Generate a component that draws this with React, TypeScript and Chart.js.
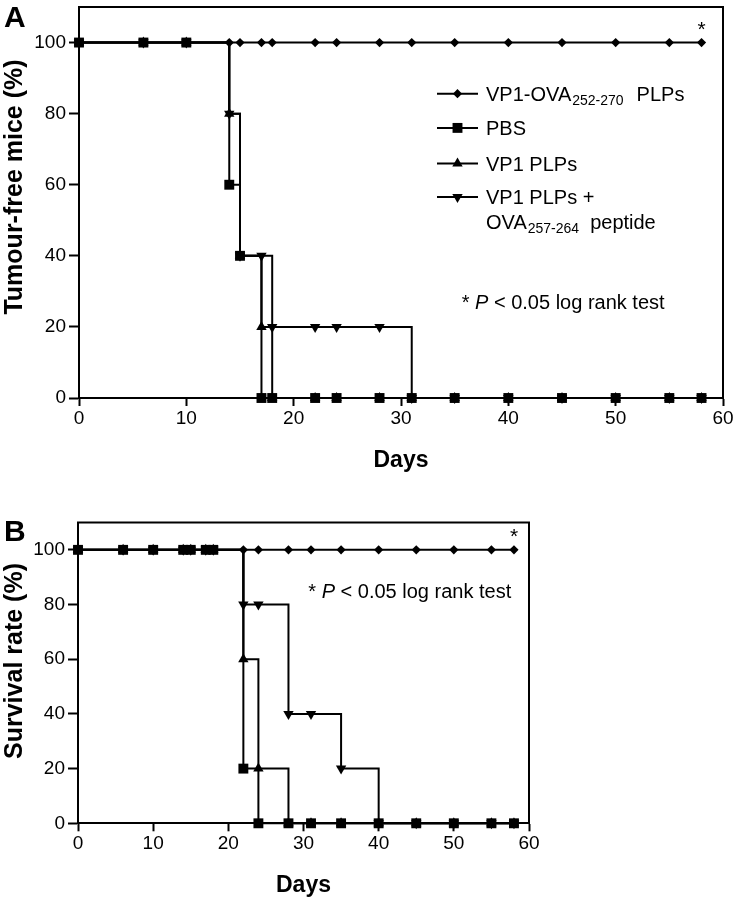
import React, { useEffect, useRef } from "react";
import { Chart, registerables } from "chart.js";

Chart.register(...registerables);

const FONT = '"Liberation Sans", Arial, Helvetica, sans-serif';

// ---------- data ----------
const seriesLabels = [
  "VP1-OVA252-270 PLPs",
  "PBS",
  "VP1 PLPs",
  "VP1 PLPs + OVA257-264 peptide",
];

// Panel A: tumour-free mice (%)
const daysA = [0, 6, 10, 14, 15, 17, 18, 22, 24, 28, 31, 35, 40, 45, 50, 55, 58];
const vp1OvaA = [100, 100, 100, 100, 100, 100, 100, 100, 100, 100, 100, 100, 100, 100, 100, 100, 100];
const pbsA = [100, 100, 100, 60, 40, 0, 0, 0, 0, 0, 0, 0, 0, 0, 0, 0, 0];
const vp1A = [100, 100, 100, 80, 40, 20, 0, 0, 0, 0, 0, 0, 0, 0, 0, 0, 0];
const vp1PepA = [100, 100, 100, 80, 40, 40, 20, 20, 20, 20, 0, 0, 0, 0, 0, 0, 0];

// Panel B: survival rate (%)
const daysB = [0, 6, 10, 14, 15, 17, 18, 22, 24, 28, 31, 35, 40, 45, 50, 55, 58];
const vp1OvaB = [100, 100, 100, 100, 100, 100, 100, 100, 100, 100, 100, 100, 100, 100, 100, 100, 100];
const pbsB = [100, 100, 100, 100, 100, 100, 100, 20, 0, 0, 0, 0, 0, 0, 0, 0, 0];
const vp1B = [100, 100, 100, 100, 100, 100, 100, 60, 20, 0, 0, 0, 0, 0, 0, 0, 0];
const vp1PepB = [100, 100, 100, 100, 100, 100, 100, 80, 80, 40, 40, 20, 0, 0, 0, 0, 0];

const xTicks = [0, 10, 20, 30, 40, 50, 60];
const yTicks = [0, 20, 40, 60, 80, 100];

const yTitleA = "Tumour-free mice (%)";
const yTitleB = "Survival rate (%)";
const xTitle = "Days";

type Seg = { t: string; sub?: boolean; italic?: boolean; gap?: number };

const legendRows: Seg[][] = [
  [{ t: "VP1-OVA" }, { t: "252-270", sub: true, gap: 1 }, { t: "PLPs", gap: 13 }],
  [{ t: "PBS" }],
  [{ t: "VP1 PLPs" }],
  [{ t: "VP1 PLPs +" }],
  [{ t: "OVA" }, { t: "257-264", sub: true, gap: 1 }, { t: "peptide", gap: 11 }],
];

const pText: Seg[] = [{ t: "* " }, { t: "P", italic: true }, { t: " < 0.05 log rank test" }];

// ---------- styles ----------
const markers = [
  { style: "rectRot", radius: 4.6, rotation: 0, order: 3 },
  { style: "rect", radius: 7, rotation: 0, order: 0 },
  { style: "triangle", radius: 6, rotation: 0, order: 1 },
  { style: "triangle", radius: 6, rotation: 180, order: 2 },
];

function drawMarker(ctx: CanvasRenderingContext2D, i: number, x: number, y: number) {
  const m = markers[i];
  const r = m.radius;
  ctx.beginPath();
  if (m.style === "rectRot") {
    ctx.moveTo(x, y - r);
    ctx.lineTo(x + r, y);
    ctx.lineTo(x, y + r);
    ctx.lineTo(x - r, y);
  } else if (m.style === "rect") {
    const s = r * Math.SQRT1_2;
    ctx.rect(x - s, y - s, 2 * s, 2 * s);
  } else {
    const dir = m.rotation === 180 ? -1 : 1;
    const w = r * Math.sin((2 * Math.PI) / 3);
    ctx.moveTo(x, y - dir * r);
    ctx.lineTo(x + w, y + dir * r * 0.5);
    ctx.lineTo(x - w, y + dir * r * 0.5);
  }
  ctx.closePath();
  ctx.fillStyle = "#000";
  ctx.fill();
}

function drawSegs(ctx: CanvasRenderingContext2D, segs: Seg[], x: number, baseline: number, size: number) {
  let cx = x;
  for (const s of segs) {
    if (s.gap) cx += s.gap;
    const fs = s.sub ? Math.round(size * 0.7) : size;
    ctx.font = `${s.italic ? "italic " : ""}${fs}px ${FONT}`;
    ctx.textAlign = "left";
    ctx.textBaseline = "alphabetic";
    ctx.fillStyle = "#000";
    ctx.fillText(s.t, cx, s.sub ? baseline + 4.5 : baseline);
    cx += ctx.measureText(s.t).width;
  }
}

type PanelSpec = {
  days: number[];
  values: number[][];
  letter: string;
  yTitle: string;
  width: number;
  height: number;
  padTop: number;
  padRight: number;
  yAxisW: number;
  xAxisH: number;
  letterBaseline: number;
  yTitleCenter: number;
  xTitleBaseline: number;
  pTextX: number;
  pTextBaseline: number;
  legend: boolean;
};

function makeChart(canvas: HTMLCanvasElement, p: PanelSpec) {
  const datasets = p.values.map((vals, i) => ({
    label: seriesLabels[i],
    data: p.days.map((d, j) => ({ x: d, y: vals[j] })),
    borderColor: "#000",
    backgroundColor: "#000",
    borderWidth: 2,
    stepped: "before" as const,
    pointStyle: markers[i].style as any,
    pointRotation: markers[i].rotation,
    pointRadius: markers[i].radius,
    pointHoverRadius: markers[i].radius,
    pointBorderWidth: 0,
    pointBackgroundColor: "#000",
    fill: false,
    clip: false as any,
    order: markers[i].order,
  }));

  const extras = {
    id: "extras",
    beforeDatasetsDraw(chart: any) {
      const { ctx, chartArea: a } = chart;
      ctx.save();
      ctx.strokeStyle = "#000";
      ctx.lineWidth = 2;
      ctx.beginPath();
      ctx.moveTo(a.left, a.bottom);
      ctx.lineTo(a.left, a.top);
      ctx.lineTo(a.right, a.top);
      ctx.lineTo(a.right, a.bottom);
      ctx.stroke();
      ctx.restore();
    },
    afterDraw(chart: any) {
      const { ctx, chartArea: a, scales } = chart;
      ctx.save();
      ctx.fillStyle = "#000";
      // panel letter
      ctx.font = `bold 30px ${FONT}`;
      ctx.textAlign = "left";
      ctx.textBaseline = "alphabetic";
      ctx.fillText(p.letter, 4, p.letterBaseline);
      // y title
      ctx.save();
      ctx.translate(22, p.yTitleCenter);
      ctx.rotate(-Math.PI / 2);
      ctx.font = `bold 25px ${FONT}`;
      ctx.textAlign = "center";
      ctx.fillText(p.yTitle, 0, 0);
      ctx.restore();
      // x title
      ctx.font = `bold 23px ${FONT}`;
      ctx.textAlign = "center";
      ctx.fillText(xTitle, (a.left + a.right) / 2, p.xTitleBaseline);
      // significance star above last point of first series
      const lastDay = p.days[p.days.length - 1];
      const lastVal = p.values[0][p.values[0].length - 1];
      ctx.font = `21px ${FONT}`;
      ctx.textAlign = "center";
      ctx.fillText("*", scales.x.getPixelForValue(lastDay), scales.y.getPixelForValue(lastVal) - 6.5);
      // p value text
      drawSegs(ctx, pText, p.pTextX, p.pTextBaseline, 20);
      // legend
      if (p.legend) {
        const baselines = [100.7, 134.9, 170.5, 203.9, 228.9];
        legendRows.forEach((row, i) => {
          const bl = baselines[i];
          if (i < 4) {
            const cy = bl - 7;
            ctx.strokeStyle = "#000";
            ctx.lineWidth = 2;
            ctx.beginPath();
            ctx.moveTo(437, cy);
            ctx.lineTo(478, cy);
            ctx.stroke();
            drawMarker(ctx, i, 457.5, cy);
          }
          drawSegs(ctx, row, 486, bl, 20);
        });
      }
      ctx.restore();
    },
  };

  const gridCommon = {
    drawOnChartArea: false,
    drawTicks: true,
    tickWidth: 2,
    tickColor: "#000",
    color: "#000",
  };

  return new Chart(canvas, {
    type: "line",
    data: { datasets: datasets as any },
    options: {
      animation: false,
      responsive: false,
      maintainAspectRatio: false,
      layout: { padding: { left: 0, right: p.padRight, top: p.padTop, bottom: 0 } },
      plugins: { legend: { display: false }, tooltip: { enabled: false }, title: { display: false } },
      events: [],
      scales: {
        x: {
          type: "linear",
          min: 0,
          max: 60,
          afterBuildTicks: (s: any) => {
            s.ticks = xTicks.map((v) => ({ value: v }));
          },
          afterFit: (s: any) => {
            s.height = p.xAxisH;
            s.paddingLeft = 0;
            s.paddingRight = 0;
          },
          grid: { ...gridCommon, tickLength: 8 },
          border: { display: true, color: "#000", width: 2 },
          ticks: { color: "#000", font: { family: FONT, size: 19 }, padding: 1, maxRotation: 0, autoSkip: false },
        },
        y: {
          type: "linear",
          min: 0,
          max: 110,
          afterBuildTicks: (s: any) => {
            s.ticks = yTicks.map((v) => ({ value: v }));
          },
          afterFit: (s: any) => {
            s.width = p.yAxisW;
            s.paddingTop = 0;
            s.paddingBottom = 0;
          },
          grid: { ...gridCommon, tickLength: 10 },
          border: { display: true, color: "#000", width: 2 },
          ticks: { color: "#000", font: { family: FONT, size: 19 }, padding: 3, autoSkip: false },
        },
      },
    } as any,
    plugins: [extras],
  });
}

const panelA: PanelSpec = {
  days: daysA,
  values: [vp1OvaA, pbsA, vp1A, vp1PepA],
  letter: "A",
  yTitle: yTitleA,
  width: 738,
  height: 475,
  padTop: 3,
  padRight: 15,
  yAxisW: 79,
  xAxisH: 77,
  letterBaseline: 27,
  yTitleCenter: 187,
  xTitleBaseline: 467,
  pTextX: 461.7,
  pTextBaseline: 308.5,
  legend: true,
};

const panelB: PanelSpec = {
  days: daysB,
  values: [vp1OvaB, pbsB, vp1B, vp1PepB],
  letter: "B",
  yTitle: yTitleB,
  width: 738,
  height: 423,
  padTop: 47.5,
  padRight: 209,
  yAxisW: 78,
  xAxisH: 74.7,
  letterBaseline: 65.7,
  yTitleCenter: 186,
  xTitleBaseline: 416.5,
  pTextX: 308.3,
  pTextBaseline: 122.5,
  legend: false,
};

function Panel({ spec, top }: { spec: PanelSpec; top: number }) {
  const ref = useRef<HTMLCanvasElement | null>(null);
  useEffect(() => {
    if (!ref.current) return;
    const chart = makeChart(ref.current, spec);
    return () => chart.destroy();
  }, [spec]);
  return (
    <canvas
      ref={ref}
      width={spec.width}
      height={spec.height}
      style={{ position: "absolute", left: 0, top, width: spec.width, height: spec.height }}
    />
  );
}

export default function App() {
  return (
    <div style={{ position: "absolute", left: 0, top: 0, width: 738, height: 898, background: "#fff" }}>
      <Panel spec={panelA} top={0} />
      <Panel spec={panelB} top={475} />
    </div>
  );
}
